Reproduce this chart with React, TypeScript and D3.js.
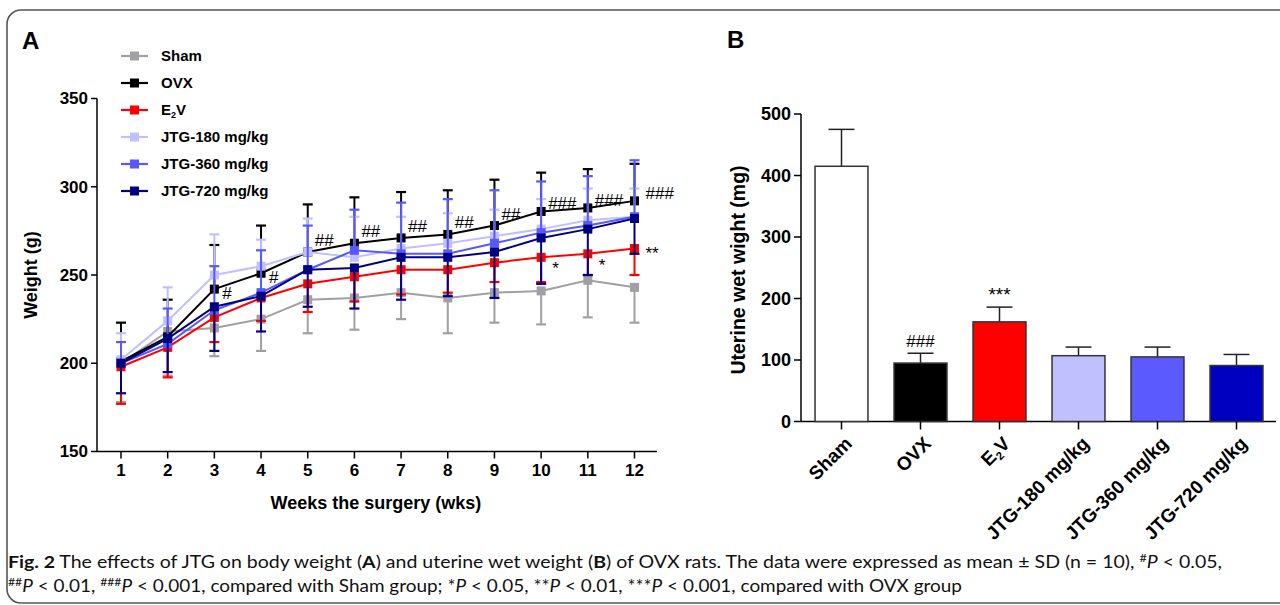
import React from "react";
import * as d3 from "d3";

// weeks after surgery
const weeks = [1, 2, 3, 4, 5, 6, 7, 8, 9, 10, 11, 12];

// body weight (g), mean and SD per group
const shamMean = [200, 218, 220, 225, 236, 237, 240, 237, 240, 241, 247, 243];
const shamSD = [22, 25, 16, 18, 19, 18, 15, 20, 17, 19, 21, 20];
const ovxMean = [201, 215, 242, 251, 263, 268, 271, 273, 278, 286, 288, 292];
const ovxSD = [22, 21, 25, 27, 27, 26, 26, 25, 26, 22, 22, 21];
const e2vMean = [198, 209, 226, 237, 245, 249, 253, 253, 257, 260, 262, 265];
const e2vSD = [21, 17, 14, 13, 16, 14, 14, 13, 11, 14, 12, 15];
const jtg180Mean = [202, 224, 250, 255, 263, 260, 265, 268, 272, 276, 281, 283];
const jtg180SD = [15, 19, 23, 15, 19, 23, 18, 17, 15, 17, 18, 16];
const jtg360Mean = [200, 211, 230, 240, 253, 264, 262, 262, 268, 274, 278, 283];
const jtg360SD = [12, 20, 25, 24, 25, 23, 29, 31, 30, 29, 28, 32];
const jtg720Mean = [200, 214, 232, 238, 253, 254, 260, 260, 263, 271, 276, 282];
const jtg720SD = [17, 19, 25, 20, 21, 23, 24, 22, 26, 26, 26, 20];

// significance marks in panel A
const sigSham = ["", "", "#", "#", "##", "##", "##", "##", "##", "###", "###", "###"];
const sigOvx = ["", "", "", "", "", "", "", "", "", "*", "*", "**"];

// panel B: uterine wet weight (mg)
const groups = ["Sham", "OVX", "E2V", "JTG-180 mg/kg", "JTG-360 mg/kg", "JTG-720 mg/kg"];
const uterusMean = [415, 95, 162, 107, 105, 91];
const uterusSD = [60, 16, 24, 14, 16, 18];
const uterusSig = ["", "###", "***", "", "", ""];

const yTicksA = [150, 200, 250, 300, 350];
const yTicksB = [0, 100, 200, 300, 400, 500];

const seriesA = [
  { name: "Sham", mean: shamMean, sd: shamSD, color: "#a0a0a4", dir: 1 },
  { name: "OVX", mean: ovxMean, sd: ovxSD, color: "#000000", dir: -1 },
  { name: "E2V", mean: e2vMean, sd: e2vSD, color: "#ff0000", dir: 1 },
  { name: "JTG-180 mg/kg", mean: jtg180Mean, sd: jtg180SD, color: "#c0c0ff", dir: -1 },
  { name: "JTG-360 mg/kg", mean: jtg360Mean, sd: jtg360SD, color: "#5858ff", dir: -1 },
  { name: "JTG-720 mg/kg", mean: jtg720Mean, sd: jtg720SD, color: "#000080", dir: 1 },
];
const barColors = ["#ffffff", "#000000", "#ff0000", "#c0c0ff", "#5a5aff", "#0000c0"];

const font = "'Liberation Sans', Arial, sans-serif";

function Label({ text, size }: { text: string; size: number }) {
  if (text === "E2V") {
    return (
      <>
        E<tspan fontSize={size * 0.6} dy={size * 0.2}>2</tspan>
        <tspan dy={-size * 0.2}>V</tspan>
      </>
    );
  }
  return <>{text}</>;
}

export default function App() {
  const xA = d3.scaleLinear().domain([1, 12]).range([121, 634.5]);
  const yA = d3.scaleLinear().domain([150, 350]).range([451.5, 98.5]);
  const line = d3
    .line<number>()
    .x((d, i) => xA(weeks[i]))
    .y((d) => yA(d));

  const xB = d3.scaleBand<string>().domain(groups).range([802, 1276]).paddingInner(0.33).paddingOuter(0.165);
  const yB = d3.scaleLinear().domain([0, 500]).range([421.5, 114]);

  return (
    <svg width={1280} height={605} style={{ position: "absolute", left: 0, top: 0 }} fontFamily={font}>
      <rect x={7} y={10} width={1320} height={593} rx={14} fill="none" stroke="#555" strokeWidth={1.6} />

      {/* Panel A */}
      <text x={22} y={49} fontSize={24} fontWeight="bold">A</text>
      <line x1={97} x2={97} y1={yA(350)} y2={yA(150)} stroke="#000" strokeWidth={1.5} />
      <line x1={97} x2={657} y1={yA(150)} y2={yA(150)} stroke="#000" strokeWidth={1.5} />
      {yTicksA.map((t) => (
        <g key={t}>
          <line x1={91} x2={97} y1={yA(t)} y2={yA(t)} stroke="#000" strokeWidth={1.5} />
          <text x={88} y={yA(t)} dy="0.35em" textAnchor="end" fontSize={17} fontWeight="bold">{t}</text>
        </g>
      ))}
      {weeks.map((w) => (
        <g key={w}>
          <line x1={xA(w)} x2={xA(w)} y1={yA(150)} y2={yA(150) + 7} stroke="#000" strokeWidth={1.5} />
          <text x={xA(w)} y={470} dy="0.35em" textAnchor="middle" fontSize={17} fontWeight="bold">{w}</text>
        </g>
      ))}
      <text x={376} y={503} dy="0.35em" textAnchor="middle" fontSize={18} fontWeight="bold">Weeks the surgery (wks)</text>
      <text transform={`translate(31,${275}) rotate(-90)`} dy="0.35em" textAnchor="middle" fontSize={18} fontWeight="bold">Weight (g)</text>

      {seriesA.map((s) => (
        <g key={s.name}>
          <path d={line(s.mean) || ""} fill="none" stroke={s.color} strokeWidth={2} />
          {s.mean.map((m, i) => {
            const x = xA(weeks[i]);
            const yEnd = yA(m + s.dir * -s.sd[i]);
            return (
              <g key={i}>
                <line x1={x} x2={x} y1={yA(m)} y2={yEnd} stroke={s.color} strokeWidth={2} />
                <line x1={x - 5} x2={x + 5} y1={yEnd} y2={yEnd} stroke={s.color} strokeWidth={2.2} />
                <rect x={x - 4.5} y={yA(m) - 4.5} width={9} height={9} fill={s.color} />
              </g>
            );
          })}
        </g>
      ))}

      {sigSham.map((t, i) => {
        if (!t) return null;
        const dx = i < 4 ? 8 : i === 11 ? 11 : 7;
        const dy = i < 4 ? 4 : i >= 9 ? -8 : -12;
        return (
          <text key={"s" + i} x={xA(weeks[i]) + dx} y={yA(ovxMean[i]) + dy} dy="0.35em" fontSize={17}>{t}</text>
        );
      })}
      {sigOvx.map((t, i) =>
        t ? (
          <text key={"o" + i} x={xA(weeks[i]) + 11} y={yA(e2vMean[i]) + (i < 11 ? 11 : 5)} dy="0.35em" fontSize={17}>{t}</text>
        ) : null
      )}

      {/* legend */}
      {seriesA.map((s, i) => {
        const y = 56 + i * 27;
        return (
          <g key={s.name}>
            <line x1={121} x2={148} y1={y} y2={y} stroke={s.color} strokeWidth={2.2} />
            <rect x={130} y={y - 4.5} width={9} height={9} fill={s.color} />
            <text x={161} y={y} dy="0.35em" fontSize={15} fontWeight="bold"><Label text={s.name} size={15} /></text>
          </g>
        );
      })}

      {/* Panel B */}
      <text x={727} y={48} fontSize={24} fontWeight="bold">B</text>
      <line x1={801} x2={801} y1={yB(500)} y2={yB(0)} stroke="#000" strokeWidth={1.5} />
      <line x1={801} x2={1276} y1={yB(0)} y2={yB(0)} stroke="#000" strokeWidth={1.5} />
      {yTicksB.map((t) => (
        <g key={t}>
          <line x1={794} x2={801} y1={yB(t)} y2={yB(t)} stroke="#000" strokeWidth={1.5} />
          <text x={791} y={yB(t)} dy="0.35em" textAnchor="end" fontSize={18} fontWeight="bold">{t}</text>
        </g>
      ))}
      <text transform={`translate(738,${270}) rotate(-90)`} dy="0.35em" textAnchor="middle" fontSize={19.5} fontWeight="bold">Uterine wet wight (mg)</text>
      {groups.map((g, i) => {
        const x0 = xB(g) || 0;
        const cx = x0 + xB.bandwidth() / 2;
        const top = yB(uterusMean[i]);
        const errTop = yB(uterusMean[i] + uterusSD[i]);
        return (
          <g key={g}>
            <line x1={cx} x2={cx} y1={top} y2={errTop} stroke="#222" strokeWidth={1.5} />
            <line x1={cx - 13} x2={cx + 13} y1={errTop} y2={errTop} stroke="#222" strokeWidth={1.5} />
            <rect x={x0} y={top} width={xB.bandwidth()} height={yB(0) - top} fill={barColors[i]} stroke="#333" strokeWidth={1.5} />
            <line x1={cx} x2={cx} y1={yB(0)} y2={yB(0) + 8} stroke="#000" strokeWidth={1.5} />
            <text transform={`translate(${cx + 7},${440}) rotate(-45)`} dy="0.35em" textAnchor="end" fontSize={19} fontWeight="bold"><Label text={g} size={19} /></text>
            {uterusSig[i] ? (
              <text x={cx} y={errTop - 6} textAnchor="middle" fontSize={uterusSig[i][0] === "*" ? 19 : 17}>{uterusSig[i]}</text>
            ) : null}
          </g>
        );
      })}

      {/* caption */}
      <g fontFamily="Lato, 'Open Sans', sans-serif" fontSize={17} fill="#111">
        <text x={8} y={568} textLength={1214} lengthAdjust="spacingAndGlyphs">
          <tspan fontWeight="bold">Fig. 2</tspan>
          <tspan>{"  The effects of JTG on body weight ("}</tspan>
          <tspan fontWeight="bold">A</tspan>
          <tspan>{") and uterine wet weight ("}</tspan>
          <tspan fontWeight="bold">B</tspan>
          <tspan>{") of OVX rats. The data were expressed as mean ± SD (n = 10), "}</tspan>
          <tspan fontSize={11} dy={-6}>#</tspan>
          <tspan dy={6} fontStyle="italic">P</tspan>
          <tspan>{" < 0.05,"}</tspan>
        </text>
        <text x={8} y={592} textLength={954} lengthAdjust="spacingAndGlyphs">
          <tspan fontSize={11} dy={-6}>##</tspan>
          <tspan dy={6} fontStyle="italic">P</tspan>
          <tspan>{" < 0.01, "}</tspan>
          <tspan fontSize={11} dy={-6}>###</tspan>
          <tspan dy={6} fontStyle="italic">P</tspan>
          <tspan>{" < 0.001, compared with Sham group; *"}</tspan>
          <tspan fontStyle="italic">P</tspan>
          <tspan>{" < 0.05, **"}</tspan>
          <tspan fontStyle="italic">P</tspan>
          <tspan>{" < 0.01, ***"}</tspan>
          <tspan fontStyle="italic">P</tspan>
          <tspan>{" < 0.001, compared with OVX group"}</tspan>
        </text>
      </g>
    </svg>
  );
}
